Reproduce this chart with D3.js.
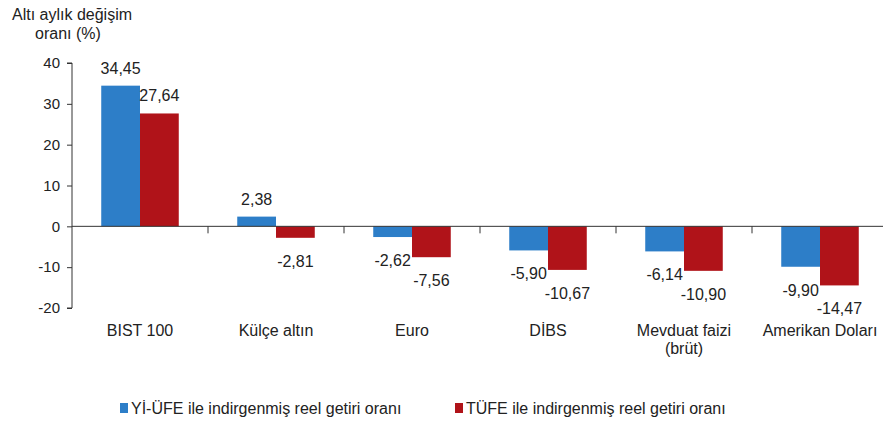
<!DOCTYPE html>
<html>
  <head>
    <meta charset="utf-8">
    <title>Reel getiri</title>
    <script src="https://d3js.org/d3.v7.min.js"></script>
    <style>
      body { margin: 0; background: #fff; }
      text { font-family: "Liberation Sans", Arial, sans-serif; fill: #222; }
    </style>
  </head>
  <body>
    <div id="graph"></div>
  </body>

  <script>
    // Chart data
    const categories = ["BIST 100", "Külçe altın", "Euro", "DİBS", "Mevduat faizi\n(brüt)", "Amerikan Doları"];
    const yiufe = [34.45, 2.38, -2.62, -5.90, -6.14, -9.90];
    const tufe = [27.64, -2.81, -7.56, -10.67, -10.90, -14.47];
    const series_names = ["Yİ-ÜFE ile indirgenmiş reel getiri oranı", "TÜFE ile indirgenmiş reel getiri oranı"];
    const series_colors = ["#2d7ec8", "#b01319"];
    const y_ticks = [-20, -10, 0, 10, 20, 30, 40];

    const width = 883;
    const height = 425;
    const margin = ({top: 63, right: 0, bottom: 117, left: 72});

    let svg = d3.select("#graph").append("svg")
      .attr("width", width)
      .attr("height", height);

    // Scales
    let x = d3.scaleBand()
      .domain(categories)
      .range([margin.left, margin.left + 136 * categories.length])
      .paddingInner(0.43)
      .paddingOuter(0.215);
    let x_inner = d3.scaleBand()
      .domain([0, 1])
      .range([0, x.bandwidth()]);
    let y = d3.scaleLinear()
      .domain([-20, 40])
      .range([308, margin.top]);

    const fmt = v => (v < 0 ? "-" : "") + d3.format(".2f")(Math.abs(v)).replace(".", ",");

    // Axis title
    svg.append("text")
      .attr("x", 72).attr("y", 20)
      .style("text-anchor", "middle")
      .style("font-size", "16px")
      .text("Altı aylık değişim");
    svg.append("text")
      .attr("x", 68).attr("y", 39)
      .style("text-anchor", "middle")
      .style("font-size", "16px")
      .text("oranı (%)");

    // Y axis
    let y_axis = d3.axisLeft(y)
      .tickValues(y_ticks)
      .tickSize(5)
      .tickPadding(7)
      .tickFormat(d => (d < 0 ? "-" : "") + Math.abs(d));
    let gy = svg.append("g")
      .attr("transform", `translate(${margin.left}, 0)`)
      .call(y_axis);
    gy.select(".domain").attr("stroke", "#333").attr("d", `M-5,${y(-20)}H0V${y(40)}H-5`);
    gy.selectAll(".tick line").attr("stroke", "#333");
    gy.selectAll(".tick text").style("font-size", "15px").attr("fill", "#222");

    // Bars
    const rows = categories.map((c, i) => ({cat: c, values: [yiufe[i], tufe[i]]}));
    let groups = svg.append("g").selectAll("g")
      .data(rows)
      .join("g")
      .attr("transform", d => `translate(${x(d.cat)}, 0)`);
    groups.selectAll("rect")
      .data(d => d.values.map((v, k) => ({v: v, k: k})))
      .join("rect")
      .attr("x", d => x_inner(d.k))
      .attr("width", x_inner.bandwidth())
      .attr("y", d => y(Math.max(0, d.v)))
      .attr("height", d => Math.abs(y(d.v) - y(0)))
      .attr("fill", d => series_colors[d.k]);

    // Value labels
    groups.selectAll(".value_label")
      .data(d => d.values.map((v, k) => ({v: v, k: k})))
      .join("text")
      .attr("class", "value_label")
      .attr("x", d => x_inner(d.k) + x_inner.bandwidth() / 2)
      .attr("y", d => d.v >= 0 ? y(d.v) - 12 : y(d.v) + 29)
      .style("text-anchor", "middle")
      .style("font-size", "16px")
      .text(d => fmt(d.v));

    // Zero line with category ticks
    const gap = (x.step() - x.bandwidth()) / 2;
    let gx = svg.append("g");
    gx.append("line")
      .attr("x1", margin.left).attr("x2", width)
      .attr("y1", y(0)).attr("y2", y(0))
      .attr("stroke", "#333");
    gx.selectAll(".cat_tick")
      .data(categories.slice(1))
      .join("line")
      .attr("class", "cat_tick")
      .attr("x1", d => x(d) - gap)
      .attr("x2", d => x(d) - gap)
      .attr("y1", y(0)).attr("y2", y(0) + 7)
      .attr("stroke", "#333");

    // Category labels
    svg.append("g").selectAll("text")
      .data(categories)
      .join("text")
      .attr("x", d => x(d) + x.bandwidth() / 2)
      .attr("y", 336)
      .style("text-anchor", "middle")
      .style("font-size", "16px")
      .each(function(d) {
        d.split("\n").forEach((line, i) => {
          d3.select(this).append("tspan")
            .attr("x", x(d) + x.bandwidth() / 2)
            .attr("dy", i === 0 ? 0 : 18)
            .text(line);
        });
      });

    // Legend
    const legend_x = [120, 455];
    let legend = svg.append("g").selectAll("g")
      .data(series_names)
      .join("g")
      .attr("transform", (d, i) => `translate(${legend_x[i]}, 403)`);
    legend.append("rect")
      .attr("width", 8).attr("height", 10)
      .attr("fill", (d, i) => series_colors[i]);
    legend.append("text")
      .attr("x", 11).attr("y", 11)
      .style("font-size", "16px")
      .text(d => d);
  </script>
</html>
